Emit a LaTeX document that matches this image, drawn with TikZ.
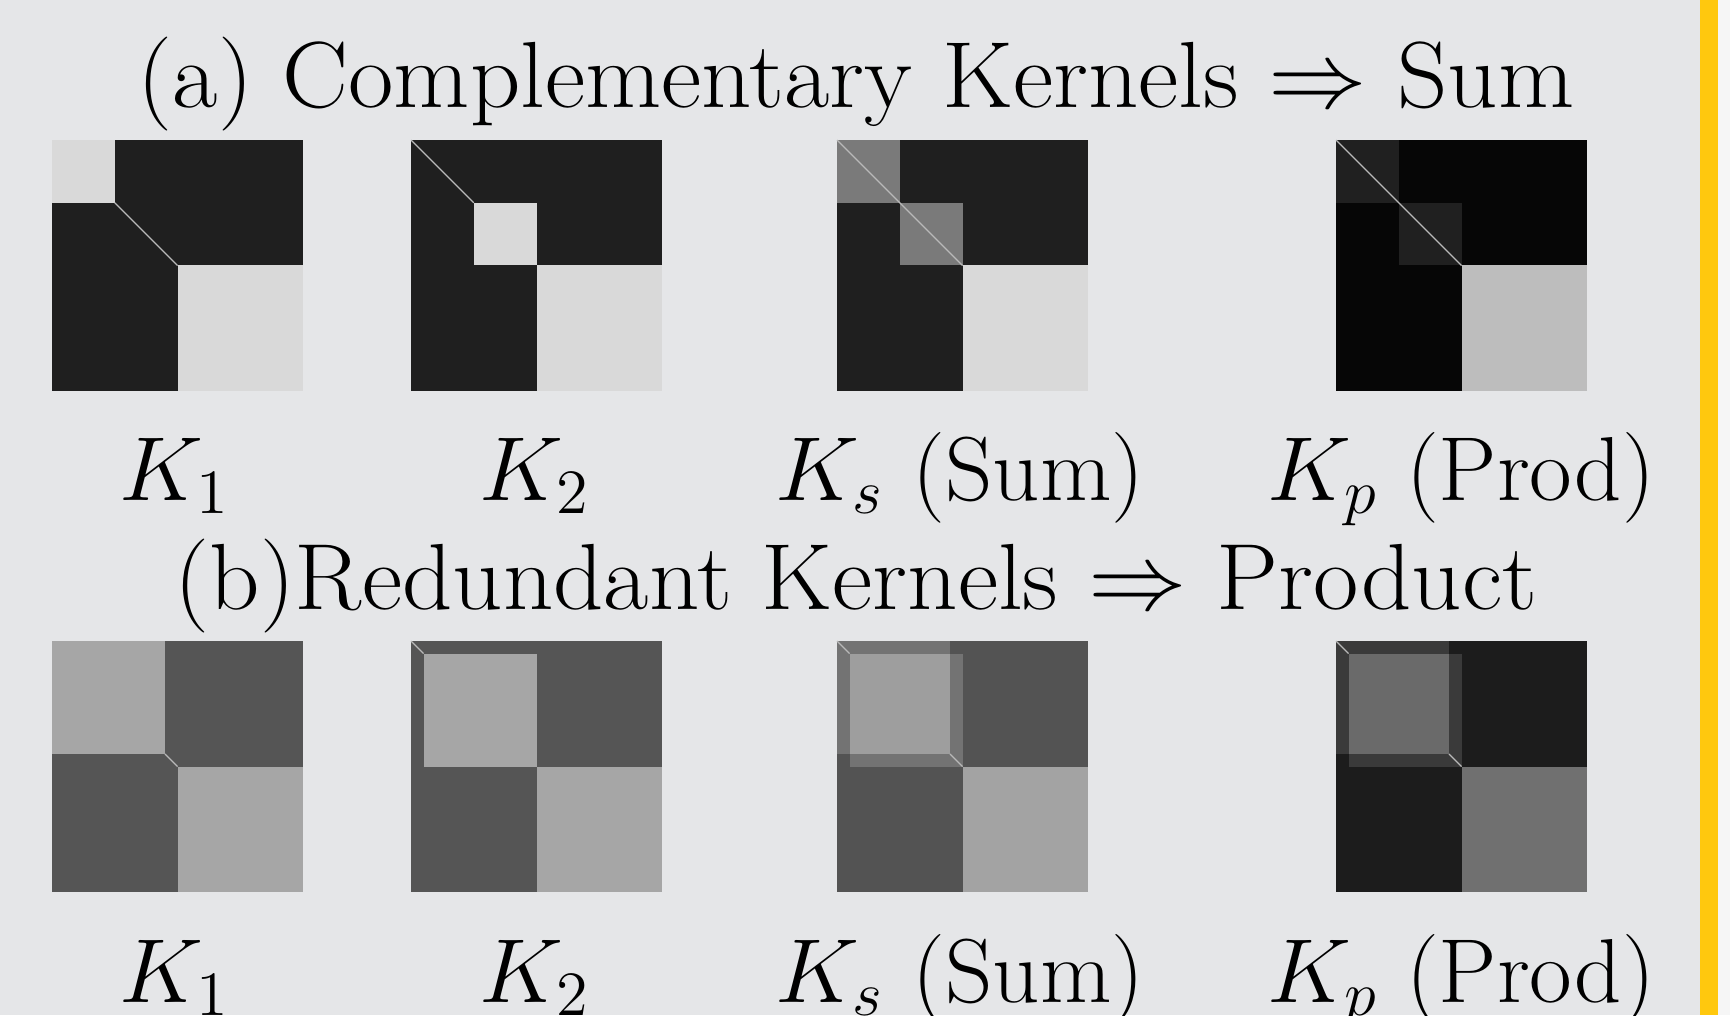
\documentclass[tikz,border=0pt]{standalone}
\definecolor{bgcol}{RGB}{229,230,232}
\definecolor{yellowbar}{RGB}{255,200,14}
\definecolor{rightstrip}{RGB}{246,246,246}
% top row
\definecolor{tdk}{HTML}{1F1F1F}
\definecolor{tlt}{HTML}{D9D9D9}
\definecolor{tmd}{HTML}{7A7A7A}
\definecolor{tblk}{HTML}{060606}
\definecolor{tpmd}{HTML}{202020}
\definecolor{tplt}{HTML}{BDBDBD}
% bottom row
\definecolor{bdk}{HTML}{555555}
\definecolor{blt}{HTML}{A6A6A6}
\definecolor{sdk}{HTML}{535353}
\definecolor{smd}{HTML}{737373}
\definecolor{slt}{HTML}{9E9E9E}
\definecolor{sbr}{HTML}{A3A3A3}
\definecolor{pdk}{HTML}{1C1C1C}
\definecolor{pmd}{HTML}{3A3A3A}
\definecolor{plt}{HTML}{6A6A6A}
\definecolor{pbr}{HTML}{707070}
\tikzset{
  mat/.style={x=62.75pt,y=-62.75pt},
  frame/.style={minimum size=62.75pt,inner sep=0pt,anchor=north west,draw=none},
  diag/.style={draw=gray!55,line width=0.3pt},
  ttl/.style={font=\huge,scale=1.133,xscale=1.05,anchor=base,inner sep=0pt},
  lbl/.style={font=\huge,scale=1.095,xscale=1.02,anchor=base,inner sep=0pt}
}
\begin{document}
\begin{tikzpicture}[x=0.25pt,y=-0.25pt]
\useasboundingbox (0,0) rectangle (1730,1015);
\fill[fill=bgcol] (0,0) rectangle (1700,1015);
\fill[fill=yellowbar] (1700,0) rectangle (1718,1015);
\fill[fill=rightstrip] (1718,0) rectangle (1730,1015);

% ---------- titles ----------
\node[ttl] (ta) at (856,108) {(a) Complementary Kernels $\Rightarrow$ Sum};
\node[ttl] (tb) at (856,609) {(b)Redundant Kernels $\Rightarrow$ Product};

% ---------- top row ----------
\begin{scope}[shift={(13pt,-35pt)},mat]
  \node[frame] (a1) at (0,0) {};
  \fill[tdk] (0,0) rectangle (1,1);
  \fill[tlt] (0,0) rectangle (.25,.25);
  \fill[tlt] (.5,.5) rectangle (1,1);
  \draw[diag] (.25,.25) -- (.5,.5);
\end{scope}
\begin{scope}[shift={(102.75pt,-35pt)},mat]
  \node[frame] (a2) at (0,0) {};
  \fill[tdk] (0,0) rectangle (1,1);
  \fill[tlt] (.25,.25) rectangle (.5,.5);
  \fill[tlt] (.5,.5) rectangle (1,1);
  \draw[diag] (0,0) -- (.25,.25);
\end{scope}
\begin{scope}[shift={(209.25pt,-35pt)},mat]
  \node[frame] (a3) at (0,0) {};
  \fill[tdk] (0,0) rectangle (1,1);
  \fill[tmd] (0,0) rectangle (.25,.25);
  \fill[tmd] (.25,.25) rectangle (.5,.5);
  \fill[tlt] (.5,.5) rectangle (1,1);
  \draw[diag] (0,0) -- (.5,.5);
\end{scope}
\begin{scope}[shift={(334pt,-35pt)},mat]
  \node[frame] (a4) at (0,0) {};
  \fill[tblk] (0,0) rectangle (1,1);
  \fill[tpmd] (0,0) rectangle (.25,.25);
  \fill[tpmd] (.25,.25) rectangle (.5,.5);
  \fill[tplt] (.5,.5) rectangle (1,1);
  \draw[diag] (0,0) -- (.5,.5);
\end{scope}

% ---------- bottom row ----------
\begin{scope}[shift={(13pt,-160.25pt)},mat]
  \node[frame] (b1) at (0,0) {};
  \fill[bdk] (0,0) rectangle (1,1);
  \fill[blt] (0,0) rectangle (.45,.45);
  \fill[blt] (.5,.5) rectangle (1,1);
  \draw[diag] (.45,.45) -- (.5,.5);
\end{scope}
\begin{scope}[shift={(102.75pt,-160.25pt)},mat]
  \node[frame] (b2) at (0,0) {};
  \fill[bdk] (0,0) rectangle (1,1);
  \fill[blt] (.05,.05) rectangle (.5,.5);
  \fill[blt] (.5,.5) rectangle (1,1);
  \draw[diag] (0,0) -- (.05,.05);
\end{scope}
\begin{scope}[shift={(209.25pt,-160.25pt)},mat]
  \node[frame] (b3) at (0,0) {};
  \fill[sdk] (0,0) rectangle (1,1);
  \fill[smd] (0,0) rectangle (.5,.5);
  \fill[sdk] (0,.45) rectangle (.05,.5);
  \fill[sdk] (.45,0) rectangle (.5,.05);
  \fill[slt] (.05,.05) rectangle (.45,.45);
  \fill[sbr] (.5,.5) rectangle (1,1);
  \draw[diag] (0,0) -- (.05,.05);
  \draw[diag] (.45,.45) -- (.5,.5);
\end{scope}
\begin{scope}[shift={(334pt,-160.25pt)},mat]
  \node[frame] (b4) at (0,0) {};
  \fill[pdk] (0,0) rectangle (1,1);
  \fill[pmd] (0,0) rectangle (.5,.5);
  \fill[pdk] (0,.45) rectangle (.05,.5);
  \fill[pdk] (.45,0) rectangle (.5,.05);
  \fill[plt] (.05,.05) rectangle (.45,.45);
  \fill[pbr] (.5,.5) rectangle (1,1);
  \draw[diag] (0,0) -- (.05,.05);
  \draw[diag] (.45,.45) -- (.5,.5);
\end{scope}

% ---------- labels ----------
\node[lbl] (la1) at (175,500) {$K_1$};
\node[lbl] (la2) at (535,500) {$K_2$};
\node[lbl] (la3) at (960,500) {$K_s$ (Sum)};
\node[lbl] (la4) at (1461,500) {$K_p$ (Prod)};
\node[lbl] (lb1) at (175,1002) {$K_1$};
\node[lbl] (lb2) at (535,1002) {$K_2$};
\node[lbl] (lb3) at (960,1002) {$K_s$ (Sum)};
\node[lbl] (lb4) at (1461,1002) {$K_p$ (Prod)};
\end{tikzpicture}
\end{document}
